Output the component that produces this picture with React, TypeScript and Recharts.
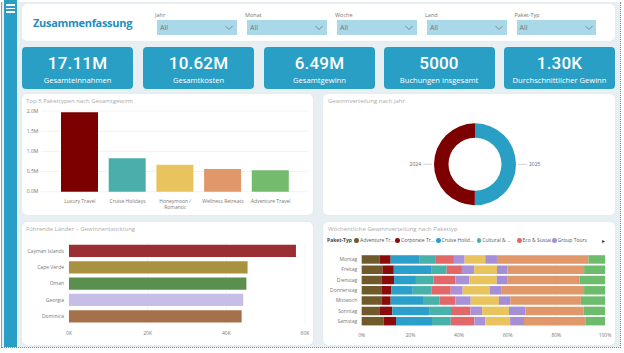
import React from 'react';
import { BarChart, Bar, XAxis, YAxis, CartesianGrid, PieChart, Pie, Cell } from 'recharts';

// slicers + KPI cards
const slicerLabels = ['Jahr', 'Monat', 'Woche', 'Land', 'Paket-Typ'];
const kpiValues = ['17.11M', '10.62M', '6.49M', '5000', '1.30K'];
const kpiLabels = ['Gesamteinnahmen', 'Gesamtkosten', 'Gesamtgewinn', 'Buchungen insgesamt', 'Durchschnittlicher Gewinn'];

// Top 5 Pakettypen
const topPackages = ['Luxury Travel', 'Cruise Holidays', 'Honeymoon / Romantic', 'Wellness Retreats', 'Adventure Travel'];
const topProfit = [1970000, 830000, 670000, 560000, 530000];
const topColors = ['#7d0000', '#4aafab', '#e8c35e', '#e0976a', '#74bb6e'];
const topTicks = [0, 500000, 1000000, 1500000, 2000000];

// Gewinn nach Jahr
const years = ['2025', '2024'];
const yearProfit = [3250000, 3240000];
const yearColors = ['#2a9fc6', '#7d0000'];

// Führende Länder
const countries = ['Cayman Islands', 'Cape Verde', 'Oman', 'Georgia', 'Dominica'];
const countryProfit = [57700, 45400, 45100, 44300, 43900];
const countryColors = ['#9b2e32', '#a8913f', '#5a8f4f', '#c7bee7', '#a5714a'];
const countryTicks = [0, 20000, 40000, 60000];

// Wöchentliche Verteilung (Anteil in %)
const weekdays = ['Montag', 'Freitag', 'Dienstag', 'Donnerstag', 'Mittwoch', 'Sonntag', 'Samstag'];
const packageTypes = ['Adventure Travel', 'Corporate Travel', 'Cruise Holidays', 'Cultural & Heritage', 'Eco & Sustainable', 'Group Tours', 'Honeymoon / Romantic', 'Island Hopping', 'Luxury Travel', 'Wellness Retreats'];
const packageColors = ['#705a2c', '#8b0a0a', '#2a9fc9', '#48b1aa', '#e26768', '#a893d9', '#e8c35e', '#a48fd6', '#e0976a', '#6dbb6c'];
const legendLabels = ['Adventure Tr...', 'Corporate Tr...', 'Cruise Holid...', 'Cultural & ...', 'Eco & Sustai...', 'Group Tours'];
const adventure = [7.3, 8.5, 8.1, 8.1, 8.1, 7.5, 9.0];
const corporate = [4.6, 4.7, 5.2, 4.0, 3.8, 5.1, 5.1];
const cruise = [11.7, 15.6, 9.0, 8.9, 13.3, 15.1, 14.8];
const cultural = [6.9, 6.1, 7.2, 7.8, 6.7, 9.0, 7.7];
const eco = [7.4, 6.3, 9.0, 7.8, 6.6, 8.0, 9.7];
const group = [4.4, 5.0, 5.7, 4.9, 6.3, 4.8, 4.5];
const honeymoon = [8.5, 9.4, 11.3, 11.2, 11.6, 11.0, 10.2];
const island = [4.8, 4.3, 4.5, 4.6, 4.7, 6.8, 5.7];
const luxury = [37.6, 31.5, 29.6, 34.1, 29.0, 23.9, 25.4];
const wellness = [6.8, 8.6, 10.4, 8.6, 9.9, 8.8, 7.9];
const weeklySeries = [adventure, corporate, cruise, cultural, eco, group, honeymoon, island, luxury, wellness];

const topData = topPackages.map((name, i) => ({ name, profit: topProfit[i] }));
const yearData = years.map((year, i) => ({ year, profit: yearProfit[i] }));
const countryData = countries.map((name, i) => ({ name, profit: countryProfit[i] }));
const weeklyData = weekdays.map((day, d) => {
  const row: Record<string, number | string> = { day };
  weeklySeries.forEach((s, k) => { row['p' + k] = s[d]; });
  return row;
});

const FONT = "'Segoe UI', 'Open Sans', sans-serif";
const BLUE = '#2a9fc6';
const tickStyle = { fontSize: 5, fill: '#777' };

const panel = (left: number, top: number, width: number, height: number): React.CSSProperties => ({
  position: 'absolute', left, top, width, height, background: '#fff', borderRadius: 5,
  boxShadow: '0 0 2px rgba(0,0,0,0.06)',
});

const titleStyle = (left: number, top: number): React.CSSProperties => ({
  position: 'absolute', left, top, fontSize: 6, color: '#ababab', whiteSpace: 'nowrap',
});

function WrapTick({ x, y, payload }: any) {
  const parts = String(payload.value).split(' / ');
  const lines = parts.length > 1 ? [parts[0] + ' /', parts[1]] : parts;
  return (
    <text x={x} y={y} textAnchor="middle" fontSize={5} fill="#777">
      {lines.map((l, i) => (
        <tspan key={i} x={x} dy={i === 0 ? '0.71em' : 6.3}>{l}</tspan>
      ))}
    </text>
  );
}

// category labels on one line, right aligned
function SideTick({ x, y, payload }: any) {
  return (
    <text x={x} y={y} dy="0.35em" textAnchor="end" fontSize={5} fill="#777">{payload.value}</text>
  );
}

const RAD = Math.PI / 180;
function pieLabel(props: any) {
  const { cx, cy, midAngle, outerRadius, payload } = props;
  const cos = Math.cos(-midAngle * RAD);
  const sin = Math.sin(-midAngle * RAD);
  const x1 = cx + (outerRadius + 2) * cos;
  const y1 = cy + (outerRadius + 2) * sin;
  const x2 = cx + (outerRadius + 11) * cos;
  const y2 = cy + (outerRadius + 11) * sin;
  const tx = cx + (outerRadius + 13) * cos;
  return (
    <g>
      <line x1={x1} y1={y1} x2={x2} y2={y2} stroke="#bbb" strokeWidth={0.7} />
      <text x={tx} y={y2} dy="0.35em" textAnchor={cos >= 0 ? 'start' : 'end'} fontSize={5} fill="#666">
        {payload?.year}
      </text>
    </g>
  );
}

const fmtM = (v: number) => (v / 1000000).toFixed(1) + 'M';
const fmtK = (v: number) => Math.round(v / 1000) + 'K';
const fmtPct = (v: number) => Math.round(v * 100) + '%';

const slicerX = [157, 247, 337, 427, 516.5];
const kpiX = [22, 143, 264, 383.5, 504];
const legendX = [356.7, 397.7, 438.3, 479, 519.3, 554.3];

export default function App() {
  return (
    <div style={{ position: 'absolute', left: 0, top: 0, width: 624, height: 353, background: '#fff', fontFamily: FONT, overflow: 'hidden' }}>
      {/* page frame */}
      <div style={{ position: 'absolute', left: 1, top: 2, width: 618, height: 345, background: '#e8eff2', borderRight: '1px dotted #888', borderBottom: '1px dotted #888', borderLeft: '1px solid #999' }} />
      {/* sidebar */}
      <div style={{ position: 'absolute', left: 4, top: 0, width: 13, height: 347, background: BLUE }} />
      {[4, 7.5, 11].map((y) => (
        <div key={y} style={{ position: 'absolute', left: 6, top: y, width: 9, height: 1.6, background: '#fff' }} />
      ))}

      {/* header */}
      <div style={panel(22, 4, 593, 36.5)} />
      <div style={{ position: 'absolute', left: 33, top: 15, fontSize: 11, fontWeight: 700, color: '#1f8ebd', letterSpacing: -0.3 }}>Zusammenfassung</div>
      {slicerLabels.map((label, i) => (
        <React.Fragment key={label}>
          <div style={{ position: 'absolute', left: slicerX[i] - 2, top: 11, fontSize: 5.5, color: '#777' }}>{label}</div>
          <div style={{ position: 'absolute', left: slicerX[i], top: 19.5, width: 79.5, height: 15, background: '#a9d8e9' }}>
            <div style={{ position: 'absolute', left: 3, top: 3.5, fontSize: 7, color: '#6b7b82' }}>All</div>
            <svg width={8} height={6} style={{ position: 'absolute', left: 68, top: 5 }}>
              <polyline points="0.5,1 4,4.5 7.5,1" fill="none" stroke="#6b7b82" strokeWidth={0.8} />
            </svg>
          </div>
        </React.Fragment>
      ))}

      {/* KPI cards */}
      {kpiValues.map((v, i) => (
        <div key={v} style={{ position: 'absolute', left: kpiX[i], top: 46.5, width: 111, height: 42, background: BLUE, borderRadius: 4, color: '#fff', textAlign: 'center' }}>
          <div style={{ position: 'absolute', left: 0, right: 0, top: 6, fontSize: 17, fontWeight: 500, fontFamily: 'Roboto, sans-serif', letterSpacing: 0.2 }}>{v}</div>
          <div style={{ position: 'absolute', left: 0, right: 0, top: 28, fontSize: 7.6 }}>{kpiLabels[i]}</div>
        </div>
      ))}

      {/* Top 5 Pakettypen */}
      <div style={panel(22, 94, 291, 121)} />
      <div style={titleStyle(26, 97)}>Top 5 Pakettypen nach Gesamtgewinn</div>
      <div style={{ position: 'absolute', left: 22, top: 94 }}>
        <BarChart width={291} height={121} data={topData} margin={{ top: 17, right: 5, bottom: 0, left: 0 }}>
          <CartesianGrid vertical={false} stroke="#ececec" strokeWidth={0.7} />
          <XAxis dataKey="name" axisLine={false} tickLine={false} tickSize={0} tickMargin={7.5} height={23.3} interval={0} padding={{ left: 15, right: 13.5 }} tick={<WrapTick />} />
          <YAxis width={19} domain={[0, 2000000]} ticks={topTicks} interval={0} tickFormatter={fmtM} axisLine={false} tickLine={false} tickSize={0} tickMargin={2.7} tick={tickStyle} />
          <Bar dataKey="profit" barSize={37} isAnimationActive={false}>
            {topData.map((d, i) => <Cell key={d.name} fill={topColors[i]} />)}
          </Bar>
        </BarChart>
      </div>

      {/* Gewinnverteilung nach Jahr */}
      <div style={panel(323, 94, 292, 121)} />
      <div style={titleStyle(328, 97)}>Gewinnverteilung nach Jahr</div>
      <div style={{ position: 'absolute', left: 323, top: 94 }}>
        <PieChart width={292} height={121}>
          <Pie data={yearData} dataKey="profit" nameKey="year" cx={147} cy={65.3} innerRadius={26.5} outerRadius={41} startAngle={90} endAngle={-270} stroke="none" label={pieLabel} labelLine={false} isAnimationActive={false}>
            {yearData.map((d, i) => <Cell key={d.year} fill={yearColors[i]} />)}
          </Pie>
        </PieChart>
      </div>

      {/* Führende Länder */}
      <div style={panel(22, 222, 291, 123)} />
      <div style={titleStyle(26, 225)}>Führende Länder – Gewinnentwicklung</div>
      <div style={{ position: 'absolute', left: 22, top: 222 }}>
        <BarChart layout="vertical" width={291} height={123} data={countryData} margin={{ top: 20.8, right: 8, bottom: 0, left: 0 }}>
          <CartesianGrid horizontal={false} stroke="#f0f0f0" strokeWidth={0.7} />
          <XAxis type="number" domain={[0, 60000]} ticks={countryTicks} interval={0} tickFormatter={fmtK} axisLine={false} tickLine={false} tickSize={0} tickMargin={7} height={20.5} tick={tickStyle} />
          <YAxis type="category" dataKey="name" width={47} interval={0} axisLine={false} tickLine={false} tickSize={0} tickMargin={5} tick={<SideTick />} />
          <Bar dataKey="profit" barSize={12.3} isAnimationActive={false}>
            {countryData.map((d, i) => <Cell key={d.name} fill={countryColors[i]} />)}
          </Bar>
        </BarChart>
      </div>

      {/* Wöchentliche Gewinnverteilung */}
      <div style={panel(323, 222, 292, 123)} />
      <div style={titleStyle(328, 225)}>Wöchentliche Gewinnverteilung nach Pakettyp</div>
      <div style={{ position: 'absolute', left: 327, top: 237, fontSize: 5, fontWeight: 700, color: '#444' }}>Paket-Typ</div>
      {legendLabels.map((label, i) => (
        <React.Fragment key={label}>
          <div style={{ position: 'absolute', left: legendX[i] - 2.3, top: 238.2, width: 4.6, height: 4.6, borderRadius: '50%', background: packageColors[i] }} />
          <div style={{ position: 'absolute', left: legendX[i] + 3.3, top: 237, fontSize: 5, color: '#555', whiteSpace: 'nowrap' }}>{label}</div>
        </React.Fragment>
      ))}
      <div style={{ position: 'absolute', left: 602, top: 236.5, fontSize: 6, color: '#333' }}>▸</div>
      <div style={{ position: 'absolute', left: 323, top: 222 }}>
        <BarChart layout="vertical" width={292} height={123} data={weeklyData} stackOffset="expand" margin={{ top: 32.2, right: 10, bottom: 0, left: 0 }}>
          <CartesianGrid horizontal={false} stroke="#f0f0f0" strokeWidth={0.7} />
          <XAxis type="number" domain={[0, 1]} ticks={[0, 0.2, 0.4, 0.6, 0.8, 1]} interval={0} tickFormatter={fmtPct} axisLine={false} tickLine={false} tickSize={0} tickMargin={7} height={18.8} tick={tickStyle} />
          <YAxis type="category" dataKey="day" width={38.7} interval={0} axisLine={false} tickLine={false} tickSize={0} tickMargin={4.4} tick={<SideTick />} />
          {packageTypes.map((name, k) => (
            <Bar key={name} name={name} dataKey={'p' + k} stackId="w" fill={packageColors[k]} barSize={8.5} isAnimationActive={false} />
          ))}
        </BarChart>
      </div>
    </div>
  );
}
